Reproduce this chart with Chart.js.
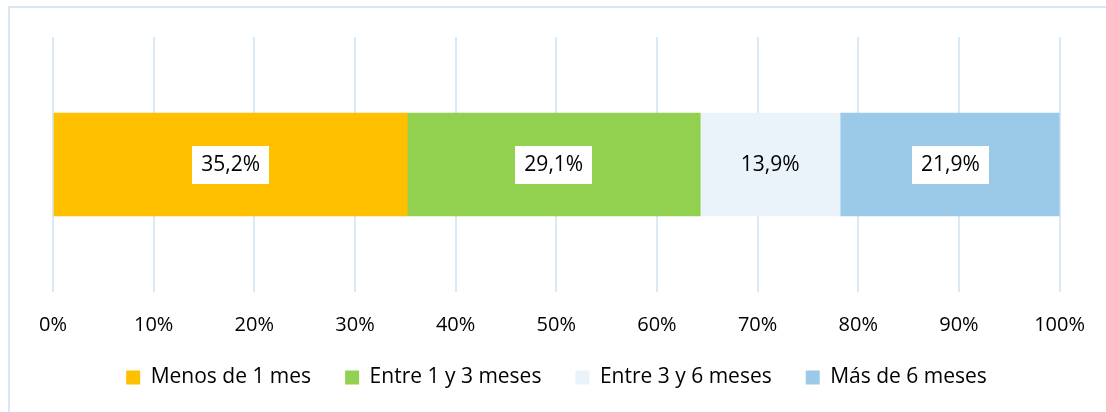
<!DOCTYPE html>
<html>
<head>
<meta charset="utf-8">
<script src="https://cdn.jsdelivr.net/npm/chart.js@4"></script>
<style>
    html, body { margin: 0; padding: 0; background: #fff; overflow: hidden; }
    #wrap { position: relative; width: 1106px; height: 412px; }
    #frame {
        position: absolute; left: 8px; top: 6px; width: 1120px; height: 430px;
        border: 2px solid #dae8f5; box-sizing: border-box;
    }
    canvas { position: absolute; left: 0; top: 0; }
</style>
</head>
<body>
<div id="wrap">
    <div id="frame"></div>
    <canvas id="chart" width="1106" height="412"></canvas>
</div>
<script>
// Chart data
const categories = [""];
const seriesNames = ["Menos de 1 mes", "Entre 1 y 3 meses", "Entre 3 y 6 meses", "Más de 6 meses"];
const seriesValues = [[35.2], [29.1], [13.9], [21.9]];
const tickValues = [0, 10, 20, 30, 40, 50, 60, 70, 80, 90, 100];

const colors = ["#ffc000", "#92d050", "#eaf2fa", "#9acae7"];
const labelBoxes = ["#ffffff", "#ffffff", null, "#ffffff"];
const FONT = "'Open Sans', 'Noto Sans', sans-serif";

/**
 * Draws value labels in the middle of each bar segment
 */
const barLabels = {
    id: "barLabels",
    afterDatasetsDraw(chart) {
        const ctx = chart.ctx;
        ctx.save();
        ctx.font = `21px ${FONT}`;
        ctx.textAlign = "center";
        ctx.textBaseline = "middle";
        chart.data.datasets.forEach((ds, i) => {
            chart.getDatasetMeta(i).data.forEach((bar, j) => {
                const cx = (bar.x + bar.base) / 2;
                const cy = bar.y;
                const text = ds.data[j].toFixed(1).replace(".", ",") + "%";
                if (labelBoxes[i]) {
                    const w = ctx.measureText(text).width + 18;
                    ctx.fillStyle = labelBoxes[i];
                    ctx.fillRect(Math.round(cx - w / 2), Math.round(cy - 19), Math.round(w), 38);
                }
                ctx.fillStyle = "#000";
                ctx.fillText(text, cx, cy + 1);
            });
        });
        ctx.restore();
    },
};

function draw() {
    new Chart(document.getElementById("chart"), {
        type: "bar",
        data: {
            labels: categories,
            datasets: seriesNames.map((name, i) => ({
                label: name,
                data: seriesValues[i],
                backgroundColor: colors[i],
                borderWidth: 0,
                barThickness: 103,
            })),
        },
        options: {
            indexAxis: "y",
            responsive: false,
            animation: false,
            layout: { padding: { top: 37, left: 53, right: 46, bottom: 14 } },
            scales: {
                x: {
                    stacked: true,
                    min: 0,
                    max: 100,
                    afterBuildTicks: (axis) => { axis.ticks = tickValues.map((v) => ({ value: v })); },
                    afterFit: (axis) => { axis.height = 41; },
                    grid: { color: "#d9e9f7", lineWidth: 2, drawTicks: false },
                    border: { display: false },
                    ticks: {
                        padding: 21,
                        color: "#000",
                        font: { family: FONT, size: 20 },
                        callback: (v) => v + "%",
                    },
                },
                y: { stacked: true, display: false },
            },
            plugins: {
                legend: {
                    position: "bottom",
                    labels: {
                        boxWidth: 14,
                        boxHeight: 14,
                        padding: 34,
                        color: "#000",
                        font: { family: FONT, size: 21 },
                    },
                },
                tooltip: { enabled: false },
            },
        },
        plugins: [barLabels],
    });
}

document.fonts.load(`20px ${FONT}`).then(draw, draw);
</script>
</body>
</html>
